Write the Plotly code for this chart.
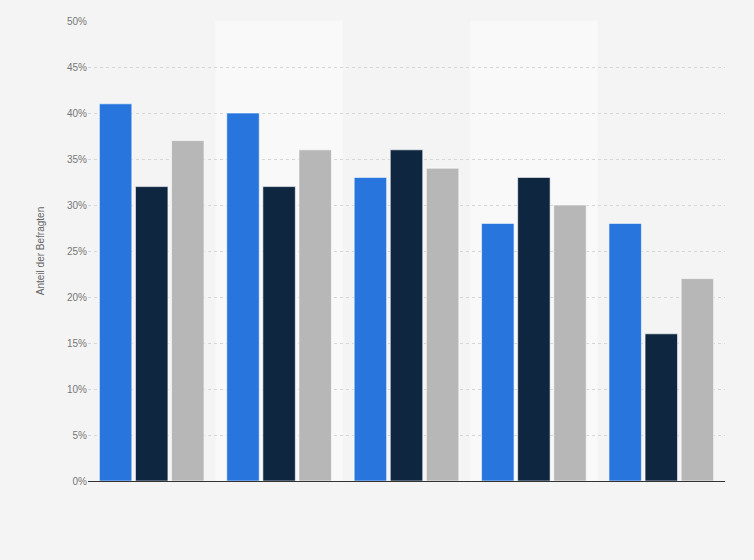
import plotly.graph_objects as go

categories = ["1", "2", "3", "4", "5"]
series_a = [41, 40, 33, 28, 28]
series_b = [32, 32, 36, 33, 16]
series_c = [37, 36, 34, 30, 22]
colors = ["#2876dd", "#0f2640", "#b7b7b7"]
y_ticks = [0, 5, 10, 15, 20, 25, 30, 35, 40, 45, 50]
y_labels = [f"{v}%" for v in y_ticks]

fig = go.Figure()
for name, vals, col in [("A", series_a, colors[0]), ("B", series_b, colors[1]), ("C", series_c, colors[2])]:
    fig.add_trace(go.Bar(
        x=categories, y=vals, name=name,
        marker=dict(color=col, line=dict(color="rgba(255,255,255,0.6)", width=1)),
        hoverinfo="y",
    ))

shapes = []
for i in (1, 3):
    shapes.append(dict(type="rect", xref="x", yref="paper", x0=i - 0.5, x1=i + 0.5, y0=0, y1=1,
                       fillcolor="#f9f9f9", line=dict(width=0), layer="below"))

fig.update_layout(
    width=754, height=560,
    paper_bgcolor="#f4f4f4", plot_bgcolor="#f4f4f4",
    margin=dict(l=88, r=29, t=21, b=79),
    barmode="group", bargap=0.15, bargroupgap=0.1,
    showlegend=False,
    shapes=shapes,
    font=dict(family="Liberation Sans, Arial, sans-serif", size=10, color="#666"),
    xaxis=dict(showticklabels=False, showgrid=False, zeroline=False,
               showline=True, linecolor="#333", linewidth=1.2, ticks=""),
    yaxis=dict(range=[0, 50], tickvals=y_ticks, ticktext=y_labels,
               showgrid=True, gridcolor="#d6d6d6", griddash="dot", gridwidth=1,
               zeroline=False, ticks="", ticklen=0,
               tickfont=dict(size=10, color="#777"),
               title=dict(text="Anteil der Befragten", font=dict(size=10, color="#666"), standoff=20)),
)

fig.write_html("out.html", config={"displayModeBar": False},
               post_script="document.body.style.margin='0';document.body.style.background='#f4f4f4';")
